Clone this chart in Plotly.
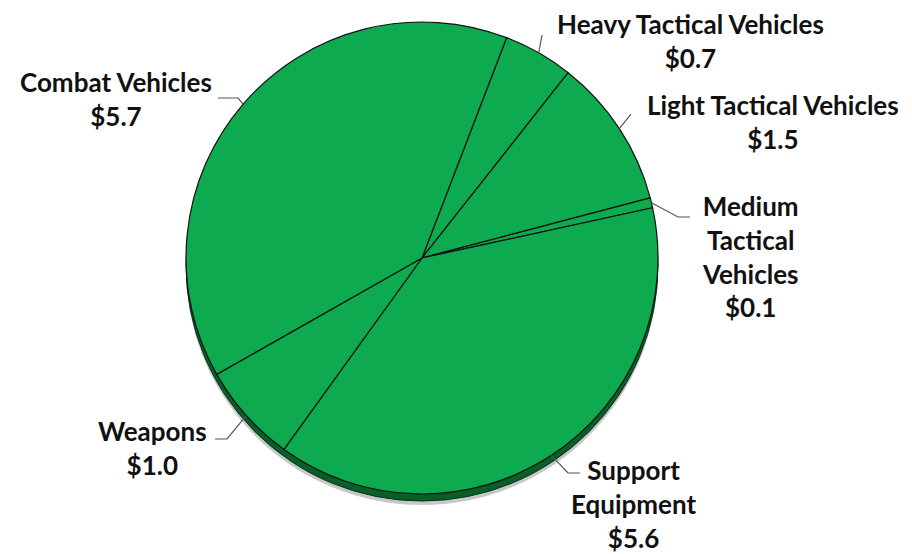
import math
import plotly.graph_objects as go

# Spending by category (billions of dollars), in clockwise order
categories = ["Heavy Tactical Vehicles", "Light Tactical Vehicles",
              "Medium Tactical Vehicles", "Support Equipment",
              "Weapons", "Combat Vehicles"]
values = [0.7, 1.5, 0.1, 5.6, 1.0, 5.7]
label_names = ["Heavy Tactical Vehicles", "Light Tactical Vehicles",
               "Medium<br>Tactical<br>Vehicles", "Support<br>Equipment",
               "Weapons", "Combat Vehicles"]

W, H = 912, 554
CX, CY, R = 422, 258, 236          # pie centre and radius, pixels
START = 21                          # first slice start, degrees clockwise from 12 o'clock
DEPTH = 7                           # thickness of the pie edge, pixels

GREEN = "#0DAA4F"
DARK = "#0A5F29"


def px(x):
    return x / W


def py(y):
    return 1 - y / H


def domain(dy=0):
    return dict(x=[px(CX - R), px(CX + R)],
                y=[py(CY + dy + R), py(CY + dy - R)])


fig = go.Figure()

# soft shadow and dark edge underneath the top face
fig.add_trace(go.Pie(values=[1], domain=domain(DEPTH + 4), sort=False,
                     marker=dict(colors=["rgba(0,0,0,0.22)"], line=dict(width=0)),
                     textinfo="none", hoverinfo="skip", showlegend=False))
fig.add_trace(go.Pie(values=[1], domain=domain(DEPTH), sort=False,
                     marker=dict(colors=[DARK], line=dict(color="#06331a", width=1)),
                     textinfo="none", hoverinfo="skip", showlegend=False))

fig.add_trace(go.Pie(
    labels=categories, values=values, domain=domain(), sort=False,
    direction="clockwise", rotation=START,
    marker=dict(colors=[GREEN] * len(values), line=dict(color="#111111", width=1.2)),
    textinfo="none", hoverinfo="label+value", showlegend=False,
))

# label block centres and the outer end of each leader line (pixels)
label_pos = [(690, 41), (773, 122), (750, 256), (633, 504), (152, 448), (116, 99)]
leader_elbow = [[(542, 35)], [(631, 114)], [(678, 217), (690, 217)],
                [(568, 473), (580, 473)], [(227, 439), (215, 439)],
                [(238, 98), (218, 98)]]

total = sum(values)
acc = 0.0
shapes = []
annotations = []
for name, v, (lx, ly), elbow in zip(label_names, values, label_pos, leader_elbow):
    mid = math.radians(START + (acc + v / 2) / total * 360)
    acc += v
    rx = CX + R * math.sin(mid)
    ry = CY - R * math.cos(mid)
    pts = [(rx, ry)] + elbow
    path = "M " + " L ".join(f"{px(x):.5f},{py(y):.5f}" for x, y in pts)
    shapes.append(dict(type="path", path=path, xref="paper", yref="paper",
                       line=dict(color="#555555", width=1.2)))
    annotations.append(dict(
        x=px(lx), y=py(ly), xref="paper", yref="paper",
        xanchor="center", yanchor="middle", align="center", showarrow=False,
        text=f"<b>{name}<br>${v:.1f}</b>",
        font=dict(family="Lato", size=26, color="#111111"),
    ))

fig.update_layout(
    width=W, height=H, margin=dict(l=0, r=0, t=0, b=0),
    paper_bgcolor="white", plot_bgcolor="white",
    shapes=shapes, annotations=annotations,
)

fig.write_html("out.html")
